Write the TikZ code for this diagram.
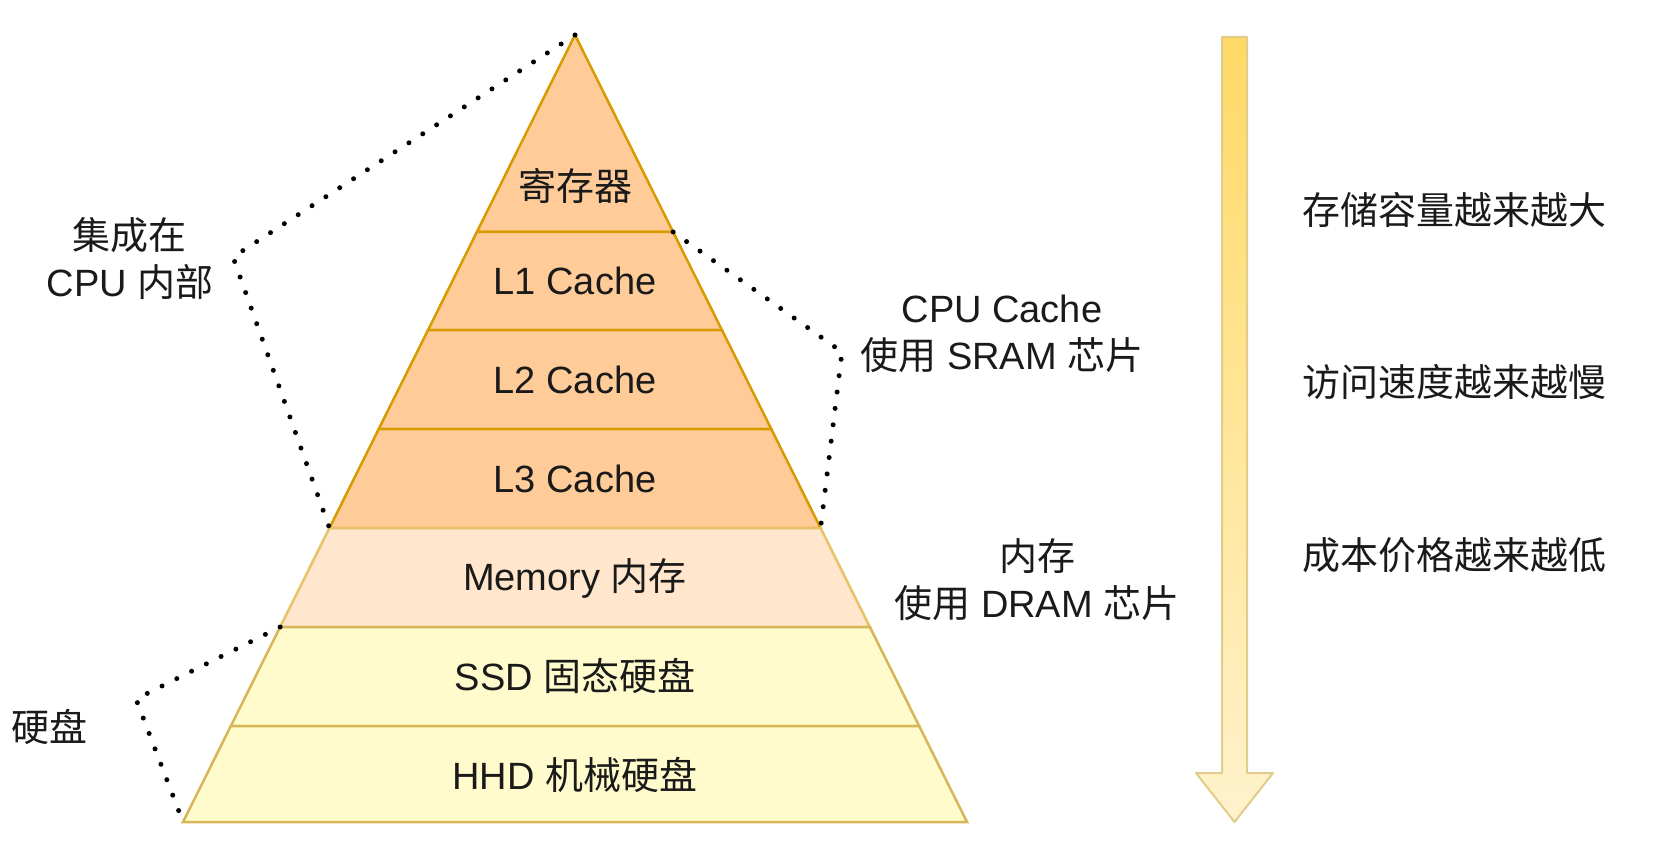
\documentclass[tikz,border=0pt]{standalone}
\usepackage{fontspec}
\setmainfont{Liberation Sans}
\newfontfamily\cjk{Noto Sans CJK SC}
\newcommand\zh[1]{{\cjk #1}}
\definecolor{cacheFill}{HTML}{FFCC99}
\definecolor{cacheEdge}{HTML}{D79B00}
\definecolor{memFill}{HTML}{FFE6CC}
\definecolor{diskFill}{HTML}{FFFBCC}
\definecolor{diskEdge}{HTML}{D6B656}
\definecolor{arrowTop}{HTML}{FFD966}
\definecolor{arrowBottom}{HTML}{FFF2CC}
\definecolor{textDark}{HTML}{1A1A1A}

\begin{document}
\begin{tikzpicture}[x=1pt,y=-1pt,
  layer text/.style={font=\fontsize{38}{47}\selectfont,text=textDark},
  side text/.style={font=\fontsize{38}{47}\selectfont,align=center,text=textDark},
  dot line/.style={line width=5pt,line cap=round,dash pattern=on 0pt off 16.5pt}]
  \useasboundingbox (0,0) rectangle (1666,853);

  % corners of the pyramid layers
  \coordinate (apex) at (575,35);
  \foreach \y [count=\i] in {232,330,429,528,627,726,822} {
    \pgfmathsetmacro\hw{0.49809*(\y-35)}
    \coordinate (l\i) at (575-\hw,\y);
    \coordinate (r\i) at (575+\hw,\y);
  }

  % layers
  \filldraw[fill=cacheFill,draw=cacheEdge,line width=2.5pt,line join=round]
    (apex) -- (r1) -- (l1) -- cycle;
  \foreach \i/\j in {1/2,2/3,3/4}
    \filldraw[fill=cacheFill,draw=cacheEdge,line width=2.5pt]
      (l\i) -- (r\i) -- (r\j) -- (l\j) -- cycle;
  \filldraw[fill=memFill,draw=cacheEdge!60,line width=2.5pt]
    (l4) -- (r4) -- (r5) -- (l5) -- cycle;
  \foreach \i/\j in {5/6,6/7}
    \filldraw[fill=diskFill,draw=diskEdge,line width=2.5pt]
      (l\i) -- (r\i) -- (r\j) -- (l\j) -- cycle;

  \node[layer text] (reg) at (575,186) {\zh{寄存器}};
  \node[layer text] (l1c) at (575,281) {L1 Cache};
  \node[layer text] (l2c) at (575,380) {L2 Cache};
  \node[layer text] (l3c) at (575,479) {L3 Cache};
  \node[layer text] (mem) at (575,578) {Memory \zh{内存}};
  \node[layer text] (ssd) at (575,676) {SSD \zh{固态硬盘}};
  \node[layer text] (hhd) at (575,775) {HHD \zh{机械硬盘}};

  % side labels
  \node[side text] (cpuin) at (130,259) {\zh{集成在}\\CPU \zh{内部}};
  \node[side text] (sram) at (1002,334) {CPU Cache\\\zh{使用} SRAM \zh{芯片}};
  \node[side text] (dram) at (1037,580) {\zh{内存}\\\zh{使用} DRAM \zh{芯片}};
  \node[side text] (disk) at (50,727) {\zh{硬盘}};

  % dotted brackets
  \coordinate (cpuBend) at (233,257);
  \coordinate (sramBend) at (842,352);
  \coordinate (diskBend) at (136,699);
  \draw[dot line] (apex) -- (cpuBend) -- (l4);
  \draw[dot line] (r1) -- (sramBend) -- (r4);
  \draw[dot line] (l5) -- (diskBend) -- (l7);

  % trend arrow
  \path[draw=diskEdge!70,line width=2pt,line join=round,
    top color=arrowTop,bottom color=arrowBottom]
    (1222,37) -- (1247,37) -- (1247,773) -- (1273,773) -- (1234.5,822)
    -- (1196,773) -- (1222,773) -- cycle;

  \node[side text] (size) at (1454,210) {\zh{存储容量越来越大}};
  \node[side text] (speed) at (1454,382) {\zh{访问速度越来越慢}};
  \node[side text] (cost) at (1454,555) {\zh{成本价格越来越低}};
\end{tikzpicture}
\end{document}
